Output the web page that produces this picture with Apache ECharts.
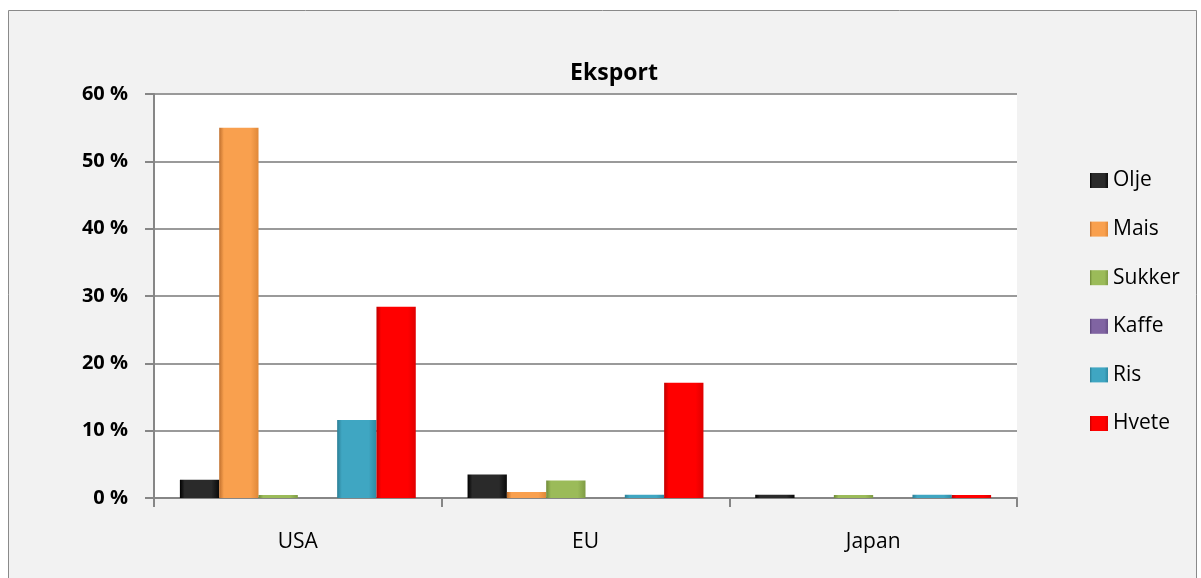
<!DOCTYPE html>
<html>
<head>
<meta charset="utf-8">
<script src="https://cdn.jsdelivr.net/npm/echarts@6/dist/echarts.min.js"></script>
<style>
html,body{margin:0;padding:0;background:#ffffff;}
#chart{width:1201px;height:578px;}
</style>
</head>
<body>
<div id="chart"></div>
<script>
const categories = ['USA', 'EU', 'Japan'];
const olje   = [2.7, 3.5, 0.5];
const mais   = [55.0, 0.9, null];
const sukker = [0, 2.6, 0];
const kaffe  = [null, null, null];
const ris    = [11.6, 0.5, 0.5];
const hvete  = [28.4, 17.1, 0];
const yTicks = [0, 10, 20, 30, 40, 50, 60];

const seriesDefs = [
  {name: 'Olje',   data: olje,   c: ['#000000', '#2a2a2a', '#0a0a0a']},
  {name: 'Mais',   data: mais,   c: ['#c0702e', '#f9a04e', '#e08838']},
  {name: 'Sukker', data: sukker, c: ['#6f8a38', '#9bbb59', '#7f9c45']},
  {name: 'Kaffe',  data: kaffe,  c: ['#5a4279', '#8064a2', '#674e87']},
  {name: 'Ris',    data: ris,    c: ['#2b7f96', '#3fa6c2', '#2d8aa3']},
  {name: 'Hvete',  data: hvete,  c: ['#c00000', '#ff0000', '#e00000']}
];

function grad(c) {
  return new echarts.graphic.LinearGradient(0, 0, 1, 0, [
    {offset: 0, color: c[0]},
    {offset: 0.12, color: c[1]},
    {offset: 0.8, color: c[1]},
    {offset: 1, color: c[2]}
  ]);
}

const chart = echarts.init(document.getElementById('chart'), null, {renderer: 'canvas'});
const option = {
  backgroundColor: '#ffffff',
  animation: false,
  graphic: [{
    type: 'rect', z: -10, silent: true,
    shape: {x: 8.5, y: 10.5, width: 1188, height: 600},
    style: {fill: '#f2f2f2', stroke: '#8a8a8a', lineWidth: 1}
  }],
  title: {
    text: 'Eksport', left: 609, top: 57, textAlign: 'center',
    textStyle: {fontFamily: 'Open Sans', fontWeight: 'bold', fontSize: 23, color: '#000'}
  },
  legend: {
    orient: 'vertical', left: 1085, top: 165,
    itemWidth: 18, itemHeight: 15, itemGap: 27.6,
    icon: 'rect',
    textStyle: {fontFamily: 'Open Sans', fontSize: 21, lineHeight: 20, color: '#000'},
    data: seriesDefs.map(s => s.name)
  },
  grid: {
    left: 154, top: 94, right: 184, bottom: 80,
    show: true, backgroundColor: '#ffffff', borderWidth: 0
  },
  xAxis: {
    type: 'category', data: categories, boundaryGap: true,
    axisLine: {lineStyle: {color: '#868686', width: 2}},
    axisTick: {show: true, length: 9, lineStyle: {color: '#868686', width: 2}},
    axisLabel: {fontFamily: 'Open Sans', fontSize: 21, color: '#000', margin: 34}
  },
  yAxis: {
    type: 'value', min: yTicks[0], max: yTicks[yTicks.length - 1], interval: 10,
    axisLine: {show: true, lineStyle: {color: '#868686', width: 2}},
    axisTick: {show: true, length: 9, lineStyle: {color: '#868686', width: 2}},
    axisLabel: {fontFamily: 'Open Sans', fontWeight: 'bold', fontSize: 20, color: '#000', margin: 26,
      formatter: v => v + ' %'},
    splitLine: {lineStyle: {color: '#9a9a9a', width: 2}}
  },
  series: seriesDefs.map(s => ({
    name: s.name, type: 'bar', data: s.data,
    barGap: '0%', barCategoryGap: '18%', barMinHeight: 3,
    itemStyle: {color: grad(s.c)}
  }))
};
chart.setOption(option);
</script>
</body>
</html>
